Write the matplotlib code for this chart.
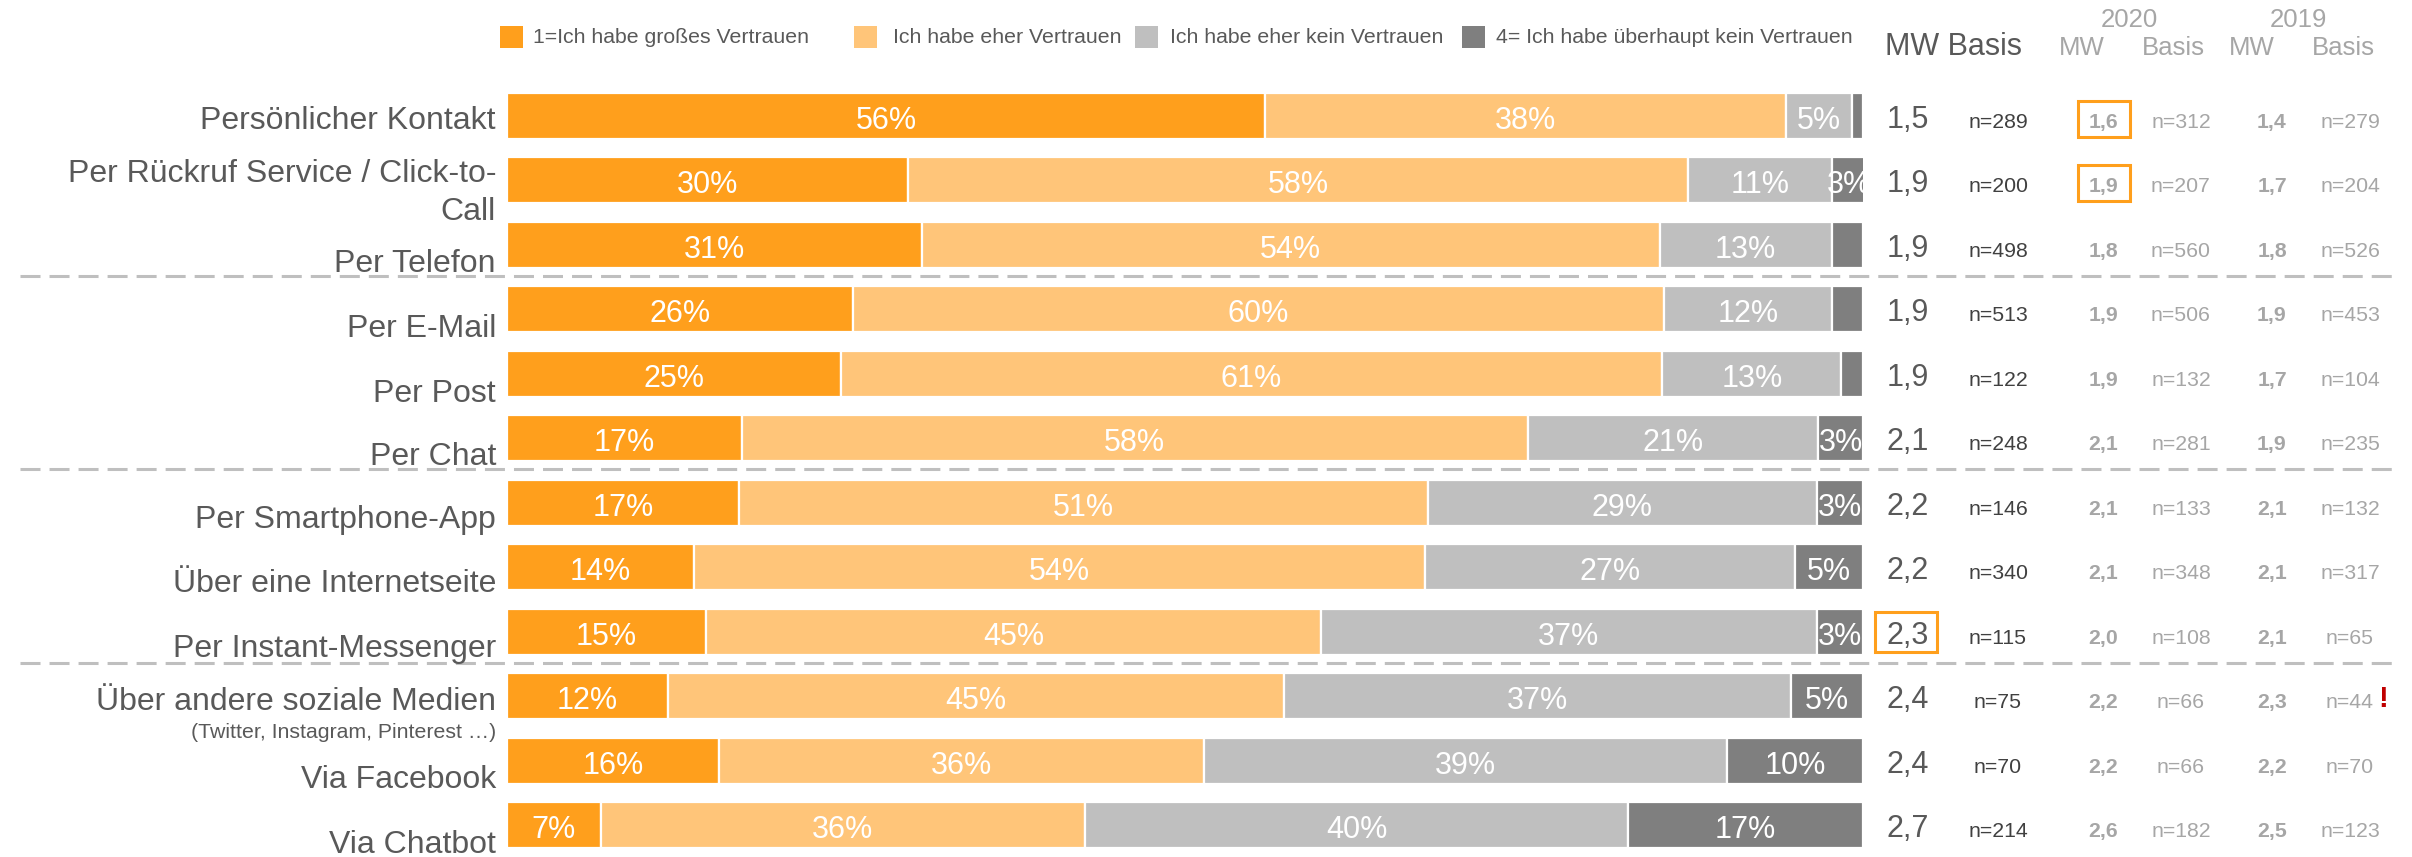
import matplotlib
matplotlib.use("Agg")
import matplotlib.pyplot as plt
from matplotlib.patches import Rectangle
from matplotlib.transforms import blended_transform_factory
import numpy as np

plt.rcParams['font.family'] = ['Liberation Sans', 'DejaVu Sans']
plt.rcParams['lines.scale_dashes'] = False

# ---------------- data ----------------
categories = [
    "Persönlicher Kontakt",
    "Per Rückruf Service / Click-to-\nCall",
    "Per Telefon",
    "Per E-Mail",
    "Per Post",
    "Per Chat",
    "Per Smartphone-App",
    "Über eine Internetseite",
    "Per Instant-Messenger",
    "Über andere soziale Medien",
    "Via Facebook",
    "Via Chatbot",
]
subtitles = ["", "", "", "", "", "", "", "", "",
             "(Twitter, Instagram, Pinterest …)", "", ""]

series_names = ["1=Ich habe großes Vertrauen", "Ich habe eher Vertrauen",
                "Ich habe eher kein Vertrauen", "4= Ich habe überhaupt kein Vertrauen"]
great      = [55.9, 29.6, 30.6, 25.5, 24.6, 17.3, 17.1, 13.8, 14.7, 11.9, 15.6, 6.9]
rather     = [38.4, 57.5, 54.4, 59.8, 60.6, 58.0, 50.8, 53.9, 45.3, 45.4, 35.8, 35.7]
rather_not = [4.9, 10.6, 12.7, 12.4, 13.2, 21.4, 28.7, 27.3, 36.6, 37.4, 38.6, 40.1]
no_trust   = [0.8, 2.6, 2.3, 2.3, 1.6, 3.3, 3.4, 5.0, 3.4, 5.3, 10.0, 17.3]

mw_now  = [1.5, 1.9, 1.9, 1.9, 1.9, 2.1, 2.2, 2.2, 2.3, 2.4, 2.4, 2.7]
n_now   = [289, 200, 498, 513, 122, 248, 146, 340, 115, 75, 70, 214]
mw_2020 = [1.6, 1.9, 1.8, 1.9, 1.9, 2.1, 2.1, 2.1, 2.0, 2.2, 2.2, 2.6]
n_2020  = [312, 207, 560, 506, 132, 281, 133, 348, 108, 66, 66, 182]
mw_2019 = [1.4, 1.7, 1.8, 1.9, 1.7, 1.9, 2.1, 2.1, 2.1, 2.3, 2.2, 2.5]
n_2019  = [279, 204, 526, 453, 104, 235, 132, 317, 65, 44, 70, 123]

highlight_now = [8]        # boxed current MW
highlight_2020 = [0, 1]    # boxed 2020 MW
warn_2019 = [9]            # red "!" after 2019 base
separators_after = [2, 5, 8]

colors = ['#FF9F1C', '#FFC579', '#BFBFBF', '#7F7F7F']
TXT = '#595959'
GRY = '#A6A6A6'

# ---------------- layout ----------------
W, H = 2412, 857
fig = plt.figure(figsize=(W / 100, H / 100), dpi=100)
bar_left, bar_right = 507, 1863
row0_px, row_px = 116, 64.5

ax = fig.add_axes([bar_left / W, 0, (bar_right - bar_left) / W, 1])
ax.set_xlim(0, 100)
ax.set_ylim((H - row0_px) / row_px, -row0_px / row_px)
ax.axis('off')

ov = fig.add_axes([0, 0, 1, 1])
ov.set_xlim(0, W)
ov.set_ylim(H, 0)
ov.axis('off')
tr = blended_transform_factory(ov.transData, ax.transData)


def px(d):
    return d / row_px


def fmt(v):
    return f"{v:.1f}".replace('.', ',')


y = np.arange(len(categories))
series = [great, rather, rather_not, no_trust]
left = np.zeros(len(y))
for vals, col in zip(series, colors):
    vals = np.array(vals)
    ax.barh(y, vals, left=left, height=46 / row_px, color=col,
            edgecolor='white', linewidth=1.6)
    for yi, l, v in zip(y, left, vals):
        if v >= 2.5:
            ax.text(l + v / 2, yi + px(13), f"{v:.0f}%", ha='center',
                    va='baseline', color='white', fontsize=22, clip_on=True)
    left += vals

# category labels
label_dy = [13, 1.5, 27, 27.5, 28, 26.5, 25, 24.5, 25, 13.5, 27, 27.5]
for i, cat in enumerate(categories):
    for k, line in enumerate(cat.split('\n')):
        ov.text(496, i + px(label_dy[i] + 38 * k), line, transform=tr,
                ha='right', va='baseline', fontsize=23, color=TXT)
    if subtitles[i]:
        ov.text(496, i + px(label_dy[i] + 28), subtitles[i], transform=tr,
                ha='right', va='baseline', fontsize=15.3, color=TXT)

# separators
for s in separators_after:
    ov.plot([20, 2397], [s + 0.5 - px(1.5)] * 2, transform=tr, color='#BFBFBF',
            lw=2.2, dashes=(14.4, 6.5), solid_capstyle='butt', clip_on=False)

# right-hand columns
columns = [
    (1908, [fmt(v) for v in mw_now], 22, TXT, 'normal'),
    (1998, [f"n={v}" for v in n_now], 15.3, '#404040', 'normal'),
    (2103, [fmt(v) for v in mw_2020], 15.3, GRY, 'bold'),
    (2181, [f"n={v}" for v in n_2020], 15.3, GRY, 'normal'),
    (2272, [fmt(v) for v in mw_2019], 15.3, GRY, 'bold'),
    (2350, [f"n={v}" for v in n_2019], 15.3, GRY, 'normal'),
]
for x, texts, fs, col, wt in columns:
    for i, t in enumerate(texts):
        ov.text(x, i + px(12), t, transform=tr, ha='center', va='baseline',
                fontsize=fs, color=col, fontweight=wt)

for i in highlight_now:
    ov.add_patch(Rectangle((1875, i - px(20)), 62, px(40), transform=tr,
                           fill=False, edgecolor='#FF9F1C', lw=2.2))
for i in highlight_2020:
    ov.add_patch(Rectangle((2078, i - px(15)), 52, px(36), transform=tr,
                           fill=False, edgecolor='#FF9F1C', lw=2.2))
for i in warn_2019:
    ov.text(2378, i + px(10.5), "!", transform=tr, ha='left', va='baseline',
            fontsize=21, color='#C00000', fontweight='bold')

# headers
ov.text(1885, 55, "MW Basis", ha='left', va='baseline', fontsize=22, color=TXT)
ov.text(2129, 27, "2020", ha='center', va='baseline', fontsize=18.5, color=GRY)
ov.text(2082, 55, "MW", ha='center', va='baseline', fontsize=18.5, color=GRY)
ov.text(2173, 55, "Basis", ha='center', va='baseline', fontsize=18.5, color=GRY)
ov.text(2298, 27, "2019", ha='center', va='baseline', fontsize=18.5, color=GRY)
ov.text(2252, 55, "MW", ha='center', va='baseline', fontsize=18.5, color=GRY)
ov.text(2343, 55, "Basis", ha='center', va='baseline', fontsize=18.5, color=GRY)

# legend
sq_x = [500, 854, 1135, 1462]
tx_x = [533, 893, 1170, 1496]
for name, col, sx, tx in zip(series_names, colors, sq_x, tx_x):
    ov.add_patch(Rectangle((sx, 26), 23, 22, color=col, lw=0))
    ov.text(tx, 37, name, ha='left', va='center', fontsize=15.3, color=TXT)

fig.savefig('out.png', dpi=100)
